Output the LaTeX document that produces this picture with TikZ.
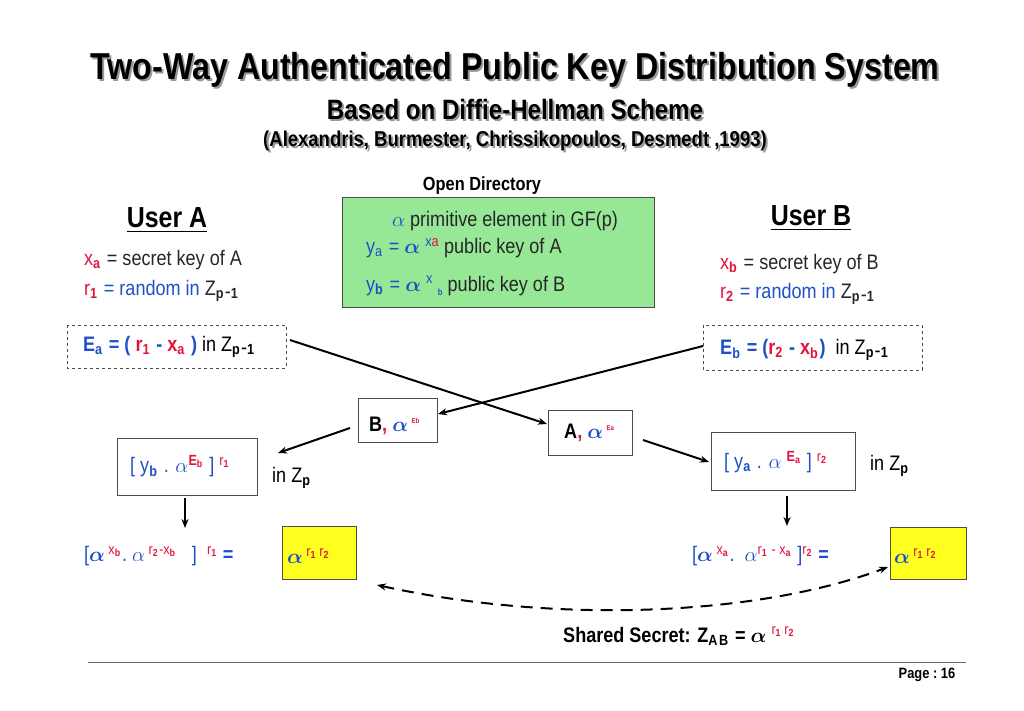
\documentclass[tikz,border=0pt]{standalone}
\usepackage{amsmath,amsbsy}
\usepackage{fontspec}
\setmainfont{Liberation Sans}[FakeStretch=0.86]
\usetikzlibrary{arrows.meta}
\definecolor{cb}{RGB}{30,80,200}
\definecolor{cr}{RGB}{225,20,60}
\definecolor{gfill}{RGB}{150,232,150}
\definecolor{yfill}{RGB}{255,255,30}
\newcommand{\bal}{$\boldsymbol{\alpha}$}
\tikzset{x=1pt,y=-1pt,
  box/.style={draw=black!70,line width=0.8pt},
  dbox/.style={draw=black!70,dashed,line width=0.8pt},
  arr/.style={-{Stealth[length=9pt,width=7pt]},line width=2pt},
  txt/.style={inner sep=0pt,font=\fontsize{21}{24}\selectfont}}
\begin{document}
\begin{tikzpicture}
\useasboundingbox (0,0) rectangle (1024,711);
\foreach \dx/\c in {2/black!40,0/black}{
\node[inner sep=0,text=\c,font=\bfseries\fontsize{37.5}{40}\selectfont] at (515+\dx,70+\dx) {Two-Way Authenticated Public Key Distribution System};
\node[inner sep=0,text=\c,font=\bfseries\fontsize{28}{30}\selectfont] at (515+\dx,109+\dx) {Based on Diffie-Hellman Scheme};
\node[inner sep=0,text=\c,font=\bfseries\fontsize{21.5}{24}\selectfont] at (515+\dx,141+\dx) {(Alexandris, Burmester, Chrissikopoulos, Desmedt ,1993)};
}
\node[inner sep=0,font=\bfseries\fontsize{19}{21}\selectfont] (od) at (482,186) {Open Directory};
\draw[box,fill=gfill] (342,197) rectangle (654,307);
\node[txt,text=black!85] (l1) at (505,221) {\textcolor{cb}{$\alpha$} primitive element in GF(p)};
\node[txt,anchor=west] (l2) at (366,248) {\textcolor{cb}{y$_{\mathrm a}$ = \bal} \textsuperscript{\textcolor{cr}{\textcolor{cb}{x}a}} \textcolor{black!85}{public key of A}};
\node[txt,anchor=west] (l3) at (366,286) {\textcolor{cb}{y$_{\mathbf b}$ = \bal} \textsuperscript{\textcolor{cb}{x}} \raisebox{-4pt}{\textcolor{cb}{\small\bfseries b}} \textcolor{black!85}{public key of B}};
\node[inner sep=1pt,font=\bfseries\fontsize{29}{31}\selectfont] (ua) at (167,220) {\underline{User A}};
\node[inner sep=1pt,font=\bfseries\fontsize{29}{31}\selectfont] (ub) at (811,218) {\underline{User B}};
\node[txt,anchor=west] (xa) at (84,260) {\textcolor{cr}{x$_{\mathbf a}$} \textcolor{black!85}{= secret key of A}};
\node[txt,anchor=west] (r1) at (84,291) {\textcolor{cr}{r$_{\mathbf 1}$} \textcolor{cb}{= random in} \textcolor{black!85}{Z$_{\mathbf{p\mbox{-}1}}$}};
\node[txt,anchor=west] (xb) at (720,264) {\textcolor{cr}{x$_{\mathbf b}$} \textcolor{black!85}{= secret key of B}};
\node[txt,anchor=west] (r2) at (720,294) {\textcolor{cr}{r$_{\mathbf 2}$} \textcolor{cb}{= random in} \textcolor{black!85}{Z$_{\mathbf{p\mbox{-}1}}$}};
\draw[dbox] (67,325) rectangle (286,368);
\node[txt,anchor=west] (ea) at (83,347) {\textcolor{cb}{\bfseries E$_{\mathbf a}$ = ( \textcolor{cr}{r$_{\mathbf 1}$} - \textcolor{cr}{x$_{\mathbf a}$} )} in Z$_{\mathbf{p\mbox{-}1}}$};
\draw[dbox] (703,325) rectangle (922,370);
\node[txt,anchor=west] (eb) at (720,350) {\textcolor{cb}{\bfseries E$_{\mathbf b}$ = (\textcolor{cr}{r$_{\mathbf 2}$} - \textcolor{cr}{x$_{\mathbf b}$})}\ \ in Z$_{\mathbf{p\mbox{-}1}}$};
\coordinate (ao) at (290,340);
\coordinate (bo) at (703,346);
\draw[box] (358,398) rectangle (437,442);
\node[txt,anchor=west] (bn) at (369,426) {\textbf{B}\textcolor{cr}{\textbf{,}} \textcolor{cb}{\bal}\,\raisebox{8pt}{\textcolor{cr}{\bfseries\scriptsize Eb}}};
\draw[box] (548,410) rectangle (632,455);
\node[txt,anchor=west] (an) at (564,433) {\textbf{A}\textcolor{cr}{\textbf{,}} \textcolor{cb}{\bal}\,\raisebox{8pt}{\textcolor{cr}{\bfseries\scriptsize Ea}}};
\coordinate (bin) at (438,414);
\coordinate (ain) at (547,424);
\draw[arr] (ao) -- (ain);
\draw[arr] (bo) -- (bin);
\draw[box] (117,438) rectangle (257,495);
\node[txt,anchor=west] (lb) at (130,466) {\textcolor{cb}{[\ y$_{\mathbf b}$ . $\alpha$\textsuperscript{\textcolor{cr}{\bfseries E$_{\mathbf b}$}} ]}\ \textsuperscript{\textcolor{cr}{r$_{\mathbf 1}$}}};
\node[txt,anchor=west] (lz) at (272,478) {in Z$_{\mathbf p}$};
\draw[box] (711,432) rectangle (855,490);
\node[txt,anchor=west] (rb) at (724,462) {\textcolor{cb}{[\ y$_{\mathbf a}$ . $\alpha$\ \textsuperscript{\textcolor{cr}{\bfseries E$_{\mathbf a}$}} ]}\ \textsuperscript{\textcolor{cr}{r$_{\mathbf 2}$}}};
\node[txt,anchor=west] (rz) at (870,466) {in Z$_{\mathbf p}$};
\draw[arr] (350,428) -- (278,453);
\draw[arr] (643,440) -- (709,462);
\draw[arr] (185,498) -- (185,528);
\draw[arr] (787,496) -- (787,526);
\node[txt,anchor=west] (le) at (84,556) {\textcolor{cb}{[\bal}\,\textsuperscript{\textcolor{cr}{x$_{\mathbf b}$}}\textcolor{cb}{.}\ \textcolor{cb}{$\alpha$}\,\textsuperscript{\textcolor{cr}{r$_{\mathbf 2}$-x$_{\mathbf b}$}}\ \ \ \textcolor{cb}{]}\ \ \textsuperscript{\textcolor{cr}{r$_{\mathbf 1}$}}\ \textcolor{cb}{\bfseries =}};
\node[box,fill=yfill,minimum width=74pt,minimum height=53pt,anchor=north west,inner sep=0] (ly) at (282,526) {};
\node[txt,anchor=west] at (287,556) {\textcolor{cb}{\bal}\,\textsuperscript{\textcolor{cr}{r$_{\mathbf 1}$\,r$_{\mathbf 2}$}}};
\node[txt,anchor=west] (re) at (692,556) {\textcolor{cb}{[\bal}\,\textsuperscript{\textcolor{cr}{x$_{\mathbf a}$}}\textcolor{cb}{.}\ \ \textcolor{cb}{$\alpha$}\textsuperscript{\textcolor{cr}{r$_{\mathbf 1}$ - x$_{\mathbf a}$}}\ \textcolor{cb}{]}\textsuperscript{\textcolor{cr}{r$_{\mathbf 2}$}}\ \textcolor{cb}{\bfseries =}};
\node[box,fill=yfill,minimum width=76pt,minimum height=52pt,anchor=north west,inner sep=0] (ry) at (890,527) {};
\node[txt,anchor=west] at (894,556) {\textcolor{cb}{\bal}\,\textsuperscript{\textcolor{cr}{r$_{\mathbf 1}$\,r$_{\mathbf 2}$}}};
\coordinate (d1) at (377,585);
\coordinate (d2) at (888,567);
\draw[{Stealth[length=9pt,width=7pt]}-{Stealth[length=9pt,width=7pt]},dash pattern=on 12pt off 8pt,line width=2pt] (d1) .. controls (560,625) and (760,615) .. (d2);
\node[txt,anchor=west] (ss) at (563,636) {\textbf{Shared Secret: Z$_{\mathbf{AB}}$ =} \bal\ \textsuperscript{\textcolor{cr}{r$_{\mathbf 1}$\,r$_{\mathbf 2}$}}};
\draw[line width=0.6pt,black!60] (88,662) -- (966,662);
\node[inner sep=0,font=\bfseries\fontsize{15}{17}\selectfont] (pg) at (927,675) {Page :\ 16};
\end{tikzpicture}
\end{document}
